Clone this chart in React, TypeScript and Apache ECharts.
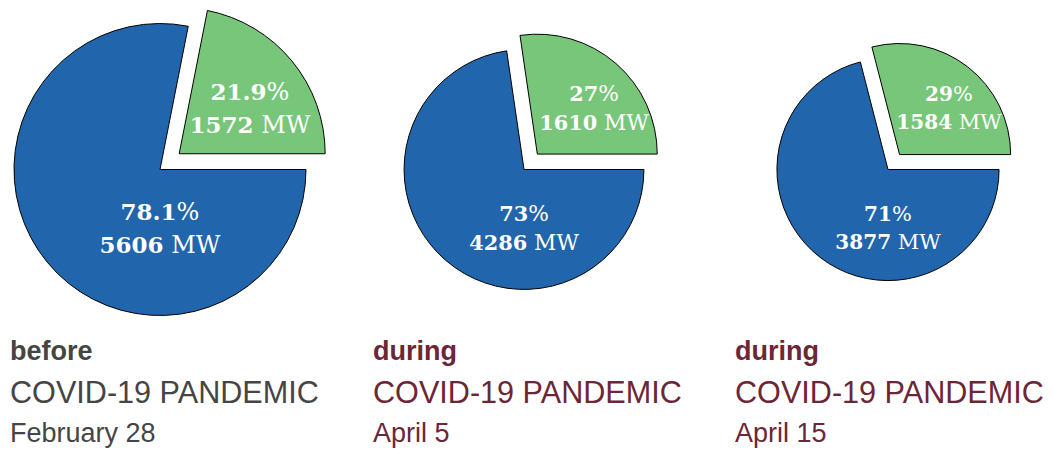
import React, { useEffect, useRef } from "react";
import * as echarts from "echarts";

const periods = ["before", "during", "during"];
const subtitle = "COVID-19 PANDEMIC";
const dates = ["February 28", "April 5", "April 15"];
const blueMW = [5606, 4286, 3877];
const greenMW = [1572, 1610, 1584];
const bluePct = ["78.1", "73", "71"];
const greenPct = ["21.9", "27", "29"];

const BLUE = "#2166ac";
const GREEN = "#78c679";
const TITLE_COLORS = ["#454545", "#6b2737", "#6b2737"];

const CX = [160, 524, 888];
const CY = 169.5;
const R_MAX = 146;
const EXPLODE = 0.17;
const TEXT_X = [10, 373, 735];
const GREEN_LABEL_DX = [90, 70, 61];

export default function App() {
  const ref = useRef<HTMLDivElement>(null);
  useEffect(() => {
    document.body.style.margin = "0";
    const chart = echarts.init(ref.current!, null, { renderer: "svg" });
    const maxTotal = Math.max(...blueMW.map((b, i) => b + greenMW[i]));
    const hidden = {
      itemStyle: { color: "rgba(0,0,0,0)", borderWidth: 0 },
      label: { show: false },
    };
    const series: any[] = [];
    blueMW.forEach((b, i) => {
      const g = greenMW[i];
      const total = b + g;
      const r = (R_MAX * total) / maxTotal;
      const s = Math.sqrt(total / maxTotal);
      const cx = CX[i];
      const lh = 33 * s;
      const mid = (Math.PI * g) / total; // half of green angle
      const off = EXPLODE * r;
      const gcx = cx + off * Math.cos(mid);
      const gcy = CY - off * Math.sin(mid);
      const rich = {
        b: { fontFamily: "DejaVu Serif", fontWeight: "bold", fontSize: 23 * s, color: "#fff", lineHeight: lh },
        n: { fontFamily: "DejaVu Serif", fontSize: 24 * s, color: "#fff", lineHeight: lh },
      };
      const common = {
        type: "pie",
        radius: r,
        startAngle: 0,
        clockwise: false,
        silent: true,
        avoidLabelOverlap: false,
        emphasis: { disabled: true },
        itemStyle: { borderColor: "#000", borderWidth: 1 },
        labelLine: { show: false },
      };
      // blue (main) wedge
      series.push({
        ...common,
        center: [cx, CY],
        label: {
          show: true,
          position: "inside",
          align: "center",
          verticalAlign: "middle",
          formatter: () => `{b|${bluePct[i]}}{n|%}\n{b|${b}}{n| MW}`,
          rich,
        },
        labelLayout: () => ({ x: cx, y: CY + 58.5, align: "center", verticalAlign: "middle" }),
        data: [
          { value: g, name: "green-space", ...hidden },
          { value: b, name: "blue", itemStyle: { color: BLUE } },
        ],
      });
      // green (exploded) wedge
      series.push({
        ...common,
        center: [gcx, gcy],
        label: {
          show: true,
          position: "inside",
          align: "center",
          verticalAlign: "middle",
          formatter: () => `{b|${greenPct[i]}}{n|%}\n{b|${g}}{n| MW}`,
          rich,
        },
        labelLayout: () => ({ x: cx + GREEN_LABEL_DX[i], y: CY - 61.5, align: "center", verticalAlign: "middle" }),
        data: [
          { value: g, name: "green", itemStyle: { color: GREEN } },
          { value: b, name: "blue-space", ...hidden },
        ],
      });
    });
    const graphic: any[] = [];
    periods.forEach((p, i) => {
      graphic.push(
        {
          type: "text",
          x: TEXT_X[i],
          y: 351,
          style: { text: p, font: "bold 27px 'Liberation Sans', Arial, sans-serif", fill: TITLE_COLORS[i], textVerticalAlign: "middle" },
        },
        {
          type: "text",
          x: TEXT_X[i],
          y: 391.5,
          style: { text: subtitle, font: "30.6px 'Liberation Sans', Arial, sans-serif", fill: TITLE_COLORS[i], textVerticalAlign: "middle" },
        },
        {
          type: "text",
          x: TEXT_X[i],
          y: 433,
          style: { text: dates[i], font: "27px 'Liberation Sans', Arial, sans-serif", fill: TITLE_COLORS[i], textVerticalAlign: "middle" },
        }
      );
    });
    chart.setOption({ animation: false, series, graphic });
    return () => chart.dispose();
  }, []);
  return <div ref={ref} style={{ width: 1053, height: 450 }} />;
}
